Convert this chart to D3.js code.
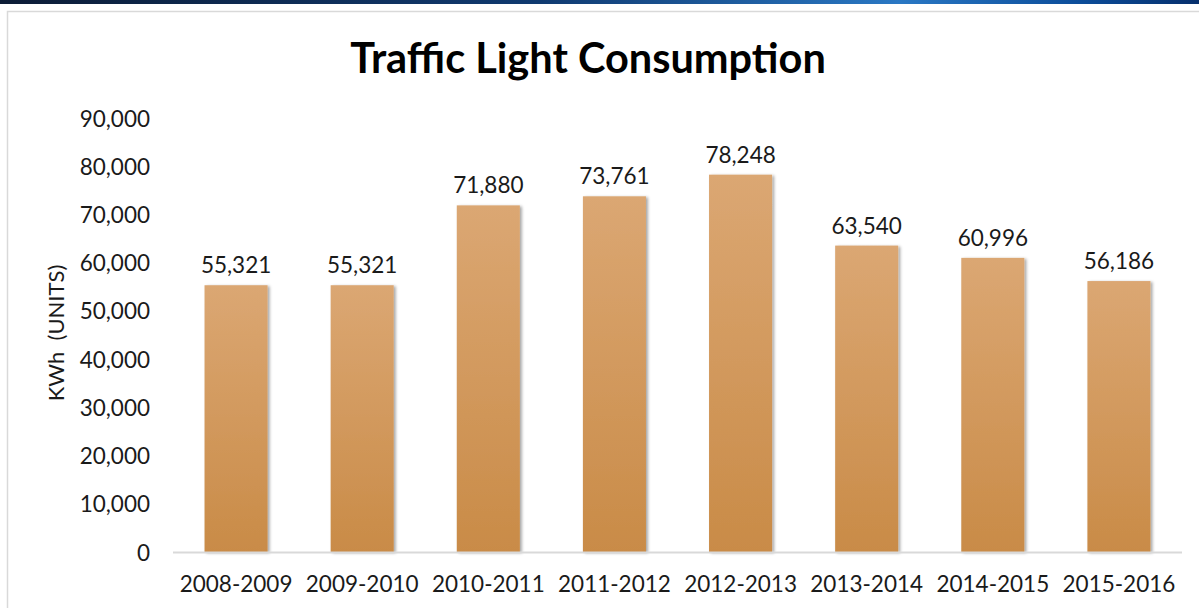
<!DOCTYPE html>
<html>
<head>
<meta charset="utf-8">
<script src="https://cdn.jsdelivr.net/npm/d3@7"></script>
<style>
  html, body { margin: 0; padding: 0; background: #fff; }
  svg { display: block; }
  text { font-family: Lato, "Noto Sans", sans-serif; fill: #1a1a1a; }
</style>
</head>
<body>
<svg id="chart" width="1199" height="608"></svg>
<script>
// Annual traffic light energy use
const years = ["2008-2009", "2009-2010", "2010-2011", "2011-2012",
               "2012-2013", "2013-2014", "2014-2015", "2015-2016"];
const consumption = [55321, 55321, 71880, 73761, 78248, 63540, 60996, 56186];
const yTicks = [0, 10000, 20000, 30000, 40000, 50000, 60000, 70000, 80000, 90000];

const W = 1199, H = 608;
const margin = { left: 173, right: 17, top: 118, bottom: 56 };
const svg = d3.select("#chart");
const defs = svg.append("defs");

// header band
const band = defs.append("linearGradient").attr("id", "band");
[["0%", "#0c1c36"], ["45%", "#103a70"], ["75%", "#2a78c4"], ["90%", "#0c4d9a"], ["100%", "#062f6c"]]
  .forEach(([o, c]) => band.append("stop").attr("offset", o).attr("stop-color", c));
svg.append("rect").attr("x", 0).attr("y", 0).attr("width", W).attr("height", 4)
  .attr("fill", "url(#band)");

// chart frame (open on the right and bottom edges)
svg.append("path")
  .attr("d", `M${W},11.5 H7.5 V${H}`)
  .attr("fill", "none").attr("stroke", "#d9d9d9").attr("stroke-width", 1.5);

// bar fill and shadow
const barGrad = defs.append("linearGradient").attr("id", "barGrad")
  .attr("x1", 0).attr("y1", 0).attr("x2", 0).attr("y2", 1);
barGrad.append("stop").attr("offset", "0%").attr("stop-color", "#dba773");
barGrad.append("stop").attr("offset", "100%").attr("stop-color", "#c98b47");

const shadow = defs.append("filter").attr("id", "shadow")
  .attr("x", "-20%").attr("y", "-5%").attr("width", "140%").attr("height", "115%");
shadow.append("feDropShadow").attr("dx", 2).attr("dy", 1).attr("stdDeviation", 1.6)
  .attr("flood-color", "#000").attr("flood-opacity", 0.35);

const x = d3.scaleBand().domain(years)
  .range([margin.left, W - margin.right]).paddingInner(0.5).paddingOuter(0.25);
const y = d3.scaleLinear().domain([0, 90000]).range([H - margin.bottom, margin.top]);

// title
svg.append("text").attr("x", 588).attr("y", 73).attr("text-anchor", "middle")
  .style("font-size", "41.5px").style("font-weight", 700).style("fill", "#000")
  .text("Traffic Light Consumption");

// y axis (labels only)
const yAxis = svg.append("g").attr("transform", `translate(150,0)`)
  .call(d3.axisLeft(y).tickValues(yTicks).tickSize(0).tickPadding(0)
    .tickFormat(d3.format(",")));
yAxis.select(".domain").remove();
yAxis.selectAll("text").style("font-size", "22.5px").style("font-family", "Lato, sans-serif")
  .attr("fill", "#1a1a1a").attr("dy", "0.36em");

// y axis title
svg.append("text")
  .attr("transform", `translate(64,333) rotate(-90)`)
  .attr("text-anchor", "middle")
  .style("font-size", "22px")
  .style("white-space", "pre")
  .attr("xml:space", "preserve")
  .text("KWh  (UNITS)");

// bars
svg.append("g").selectAll("rect").data(consumption).join("rect")
  .attr("x", (d, i) => x(years[i]))
  .attr("y", d => y(d))
  .attr("width", x.bandwidth())
  .attr("height", d => y(0) - y(d))
  .attr("fill", "url(#barGrad)")
  .attr("filter", "url(#shadow)");

// baseline
svg.append("line").attr("x1", margin.left).attr("x2", W - margin.right)
  .attr("y1", y(0) + 0.5).attr("y2", y(0) + 0.5)
  .attr("stroke", "#d9d9d9").attr("stroke-width", 2);

// value labels
svg.append("g").selectAll("text").data(consumption).join("text")
  .attr("x", (d, i) => x(years[i]) + x.bandwidth() / 2)
  .attr("y", d => y(d) - 12)
  .attr("text-anchor", "middle")
  .style("font-size", "22.5px")
  .text(d => d3.format(",")(d));

// category labels
const xAxis = svg.append("g").attr("transform", `translate(0,${y(0) + 40})`)
  .call(d3.axisBottom(x).tickSize(0).tickPadding(0));
xAxis.select(".domain").remove();
xAxis.selectAll("text").style("font-size", "22.5px").style("font-family", "Lato, sans-serif")
  .attr("fill", "#1a1a1a").attr("dy", 0);
</script>
</body>
</html>
